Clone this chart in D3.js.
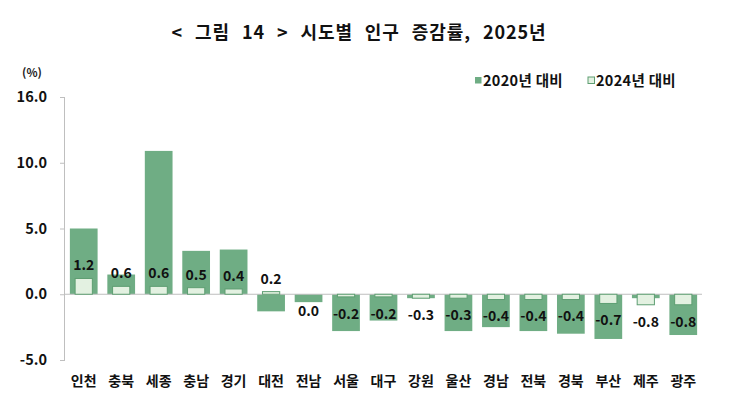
<!DOCTYPE html>
<html><head><meta charset="utf-8">
<script src="https://cdn.jsdelivr.net/npm/d3@7"></script>
<style>
html,body{margin:0;padding:0;background:#fff;}
text{font-family:"Noto Sans CJK KR","Noto Sans",sans-serif;}
</style></head>
<body><svg id="c" width="740" height="411"></svg>
<script>
const categories = ["인천","충북","세종","충남","경기","대전","전남","서울","대구","강원","울산","경남","전북","경북","부산","제주","광주"];
const vs2020 = [5.0,1.5,10.9,3.3,3.4,-1.3,-0.6,-2.8,-2.0,-0.3,-2.8,-2.5,-2.8,-3.0,-3.4,-0.3,-3.1];
const vs2024 = [1.2,0.6,0.6,0.5,0.4,0.2,0.0,-0.2,-0.2,-0.3,-0.3,-0.4,-0.4,-0.4,-0.7,-0.8,-0.8];
const seriesNames = ["2020년 대비","2024년 대비"];
const yTicks = [-5,0,5,10,15];
const yTickLabels = ["-5.0","0.0","5.0","10.0","16.0"];
const title = "< 그림 14 > 시도별 인구 증감률, 2025년";
const unit = "(%)";

const GREEN = "#6fad84", LIGHT = "#e3f1e1", LSTROKE = "#5e9e72";
const svg = d3.select("#c");
const x = d3.scaleBand().domain(categories).range([65, 702]).padding(0);
const y = d3.scaleLinear().domain([-5, 15]).range([360, 97]);
const fmt = v => d3.format(".1f")(v).replace("\u2212", "-");

svg.append("text").attr("x", 359).attr("y", 39).attr("text-anchor", "middle")
  .attr("font-size", 18).attr("font-weight", "bold").attr("fill", "#111")
  .style("word-spacing", "7px").style("letter-spacing", "0.9px").text(title);
svg.append("text").attr("x", 32).attr("y", 77).attr("text-anchor", "middle")
  .attr("font-size", 11.5).attr("font-weight", "bold").attr("fill", "#222").text(unit);

// y axis
const yAxis = d3.axisLeft(y).tickValues(yTicks).tickSize(5).tickFormat((d,i) => yTickLabels[i]);
const gy = svg.append("g").attr("transform", "translate(65,0)").call(yAxis);
gy.select(".domain").attr("stroke", "#bfbfbf").attr("d", `M-0.5,${y(15)}V${y(-5)}`);
gy.selectAll(".tick line").attr("stroke", "#bfbfbf");
gy.selectAll(".tick text").attr("font-size", 14.5).attr("font-weight", "bold").attr("fill", "#111")
  .attr("x", -18).style("font-family", '"Noto Sans CJK KR",sans-serif');

const gw = x.bandwidth() * 0.74, lw = x.bandwidth() * 0.46;
const data = categories.map((c, i) => ({c, a: vs2020[i], b: vs2024[i]}));

svg.append("g").selectAll("rect").data(data).join("rect")
  .attr("x", d => x(d.c) + (x.bandwidth() - gw) / 2).attr("width", gw)
  .attr("y", d => y(Math.max(0, d.a))).attr("height", d => Math.abs(y(d.a) - y(0)))
  .attr("fill", GREEN);

// zero line
svg.append("line").attr("x1", 65).attr("x2", 702).attr("y1", y(0)).attr("y2", y(0))
  .attr("stroke", "#bfbfbf").attr("stroke-width", 1);

svg.append("g").selectAll("rect").data(data).join("rect")
  .attr("x", d => x(d.c) + (x.bandwidth() - lw) / 2).attr("width", lw)
  .attr("y", d => y(Math.max(0, d.b))).attr("height", d => Math.abs(y(d.b) - y(0)))
  .attr("fill", LIGHT).attr("stroke", LSTROKE).attr("stroke-width", 1);

svg.append("g").selectAll("text").data(data).join("text")
  .attr("x", d => x(d.c) + x.bandwidth() / 2)
  .attr("y", d => d.b > 0 ? y(d.b) - 13 : y(d.b) + 17)
  .attr("dy", "0.35em").attr("text-anchor", "middle")
  .attr("font-size", 14).attr("font-weight", "bold").attr("fill", "#111")
  .text(d => fmt(d.b));

// x labels
svg.append("g").selectAll("text").data(categories).join("text")
  .attr("x", d => x(d) + x.bandwidth() / 2).attr("y", 381).attr("dy", "0.35em")
  .attr("text-anchor", "middle").attr("font-size", 14).attr("font-weight", "bold").attr("fill", "#111")
  .text(d => d);

// legend
const leg = [{n: seriesNames[0], x: 475, f: GREEN, s: "none"}, {n: seriesNames[1], x: 588, f: LIGHT, s: LSTROKE}];
const lg = svg.append("g").selectAll("g").data(leg).join("g");
lg.append("rect").attr("x", d => d.x).attr("y", 77).attr("width", 6.5).attr("height", 6.5)
  .attr("fill", d => d.f).attr("stroke", d => d.s);
lg.append("text").attr("x", d => d.x + 8).attr("y", 80.5).attr("dy", "0.35em")
  .attr("font-size", 14.5).attr("font-weight", "bold").attr("fill", "#111")
  .style("letter-spacing", "0.3px").text(d => d.n);
</script></body></html>
